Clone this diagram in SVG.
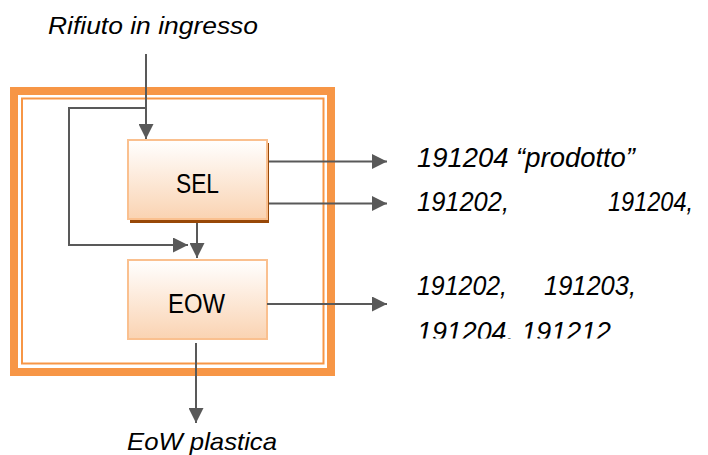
<svg xmlns="http://www.w3.org/2000/svg" width="708" height="455" viewBox="0 0 708 455">
<defs>
<linearGradient id="g" x1="0" y1="0" x2="0" y2="1">
<stop offset="0" stop-color="#ffffff"/>
<stop offset="1" stop-color="#fad3b2"/>
</linearGradient>
<marker id="ah" markerWidth="15" markerHeight="15" viewBox="0 0 15 15" refX="15" refY="7.5" orient="auto" markerUnits="userSpaceOnUse">
<path d="M0,0 L15,7.5 L0,15 Z" fill="#595959"/>
</marker>
<clipPath id="clip4"><rect x="400" y="300" width="300" height="38.5"/></clipPath>
</defs>
<style>
.lbl{font-family:"Liberation Sans",Arial,sans-serif;font-style:italic;fill:#000}
.box{fill:url(#g);stroke:#fac08f;stroke-width:2}
.shadow{fill:#984807}
.nt{font-family:"Liberation Sans",Arial,sans-serif;font-size:27px;fill:#000}
.c{fill:none;stroke:#595959;stroke-width:2}
</style>
<rect width="708" height="455" fill="#ffffff"/>
<g id="frame">
<rect x="14" y="91" width="317" height="281" fill="none" stroke="#f79646" stroke-width="8"/>
<rect x="22" y="98.5" width="301.5" height="265" fill="none" stroke="#f79646" stroke-width="2"/>
</g>
<g id="sel">
<rect class="shadow" x="130" y="143" width="139" height="80"/>
<rect class="box" x="128" y="140" width="139" height="79"/>
<text class="nt" x="176" y="193" textLength="43" lengthAdjust="spacingAndGlyphs">SEL</text>
</g>
<g id="eow">
<rect class="box" x="128" y="260" width="139" height="79"/>
<text class="nt" x="168" y="313" textLength="57" lengthAdjust="spacingAndGlyphs">EOW</text>
</g>
<g id="connectors">
<path class="c" d="M146,54 V139" marker-end="url(#ah)"/>
<path class="c" d="M146,108 H69 V245 H188" marker-end="url(#ah)"/>
<path class="c" d="M197,223 V258" marker-end="url(#ah)"/>
<path class="c" d="M269,161.5 H387" marker-end="url(#ah)"/>
<path class="c" d="M269,203.5 H387" marker-end="url(#ah)"/>
<path class="c" d="M267,304 H387" marker-end="url(#ah)"/>
<path class="c" d="M196,343 V423" marker-end="url(#ah)"/>
</g>
<g id="labels">
<text class="lbl" x="48" y="34" font-size="24" textLength="210" lengthAdjust="spacingAndGlyphs">Rifiuto in ingresso</text>
<text class="lbl" x="127" y="450" font-size="24" textLength="150" lengthAdjust="spacingAndGlyphs">EoW plastica</text>
<text class="lbl" x="417" y="167" font-size="28" textLength="218" lengthAdjust="spacingAndGlyphs">191204 “prodotto”</text>
<text class="lbl" x="417" y="211" font-size="28" textLength="92" lengthAdjust="spacingAndGlyphs">191202,</text>
<text class="lbl" x="608" y="211" font-size="27" textLength="85" lengthAdjust="spacingAndGlyphs">191204,</text>
<text class="lbl" x="417" y="295" font-size="28" textLength="90" lengthAdjust="spacingAndGlyphs">191202,</text>
<text class="lbl" x="544" y="295" font-size="28" textLength="92" lengthAdjust="spacingAndGlyphs">191203,</text>
<g clip-path="url(#clip4)">
<text class="lbl" x="417" y="341" font-size="28" textLength="194" lengthAdjust="spacingAndGlyphs">191204. 191212</text>
</g>
</g>
</svg>
